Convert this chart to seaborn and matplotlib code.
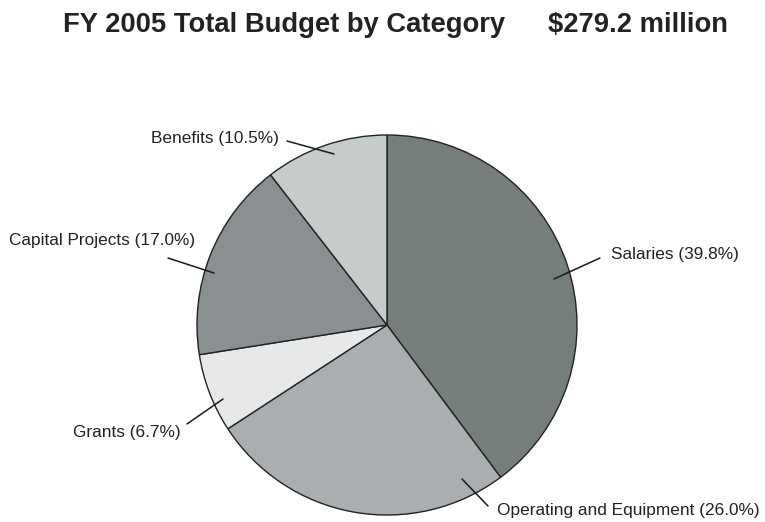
import matplotlib
matplotlib.use("Agg")
import matplotlib.pyplot as plt
import seaborn as sns

# ---- data ----
categories = ["Salaries", "Operating and Equipment", "Grants", "Capital Projects", "Benefits"]
shares = [39.8, 26.0, 6.7, 17.0, 10.5]
title_left = "FY 2005 Total Budget by Category"
title_right = "$279.2 million"

# ---- style ----
colors = ["#757e7b", "#a9aeb0", "#e7e8e9", "#8a9092", "#c6cbcb"]
W, H = 765, 522
center_img = (387, 325)
radius = 190

# label layout (image pixel coords): inner point, outer point, text anchor, alignment
label_layout = [
    ((554, 279), (600, 258), (611, 255), "left"),
    ((462, 479), (488, 506), (497, 510), "left"),
    ((223, 399), (187, 424), (181, 432), "right"),
    ((214, 273), (168, 258), (195, 241), "right"),
    ((334, 154), (287, 141), (279, 138), "right"),
]

sns.set_theme(style="white")
plt.rcParams["font.family"] = ["Liberation Sans", "DejaVu Sans"]

fig = plt.figure(figsize=(W / 100, H / 100), dpi=100)
ax = fig.add_axes([0, 0, 1, 1])
ax.set_xlim(0, W)
ax.set_ylim(0, H)
ax.set_aspect("equal")
ax.axis("off")

def fy(y):
    return H - y

ax.pie(shares, colors=colors, startangle=90, counterclock=False,
       center=(center_img[0], fy(center_img[1])), radius=radius,
       wedgeprops=dict(edgecolor="#222222", linewidth=1.0))
ax.set_xlim(0, W)
ax.set_ylim(0, H)

for cat, val, (p_in, p_out, p_txt, ha) in zip(categories, shares, label_layout):
    ax.plot([p_in[0], p_out[0]], [fy(p_in[1]), fy(p_out[1])], color="#1a1a1a", lw=1.1)
    ax.text(p_txt[0], fy(p_txt[1]), f"{cat} ({val:.1f}%)", ha=ha, va="center",
            fontsize=12.4, color="#222222")

fig.text(63 / W, 1 - 25 / H, title_left, ha="left", va="center",
         fontsize=19.7, fontweight="bold", color="#222222")
fig.text(548 / W, 1 - 25 / H, title_right, ha="left", va="center",
         fontsize=19.7, fontweight="bold", color="#222222")

fig.savefig("out.png", dpi=100)
